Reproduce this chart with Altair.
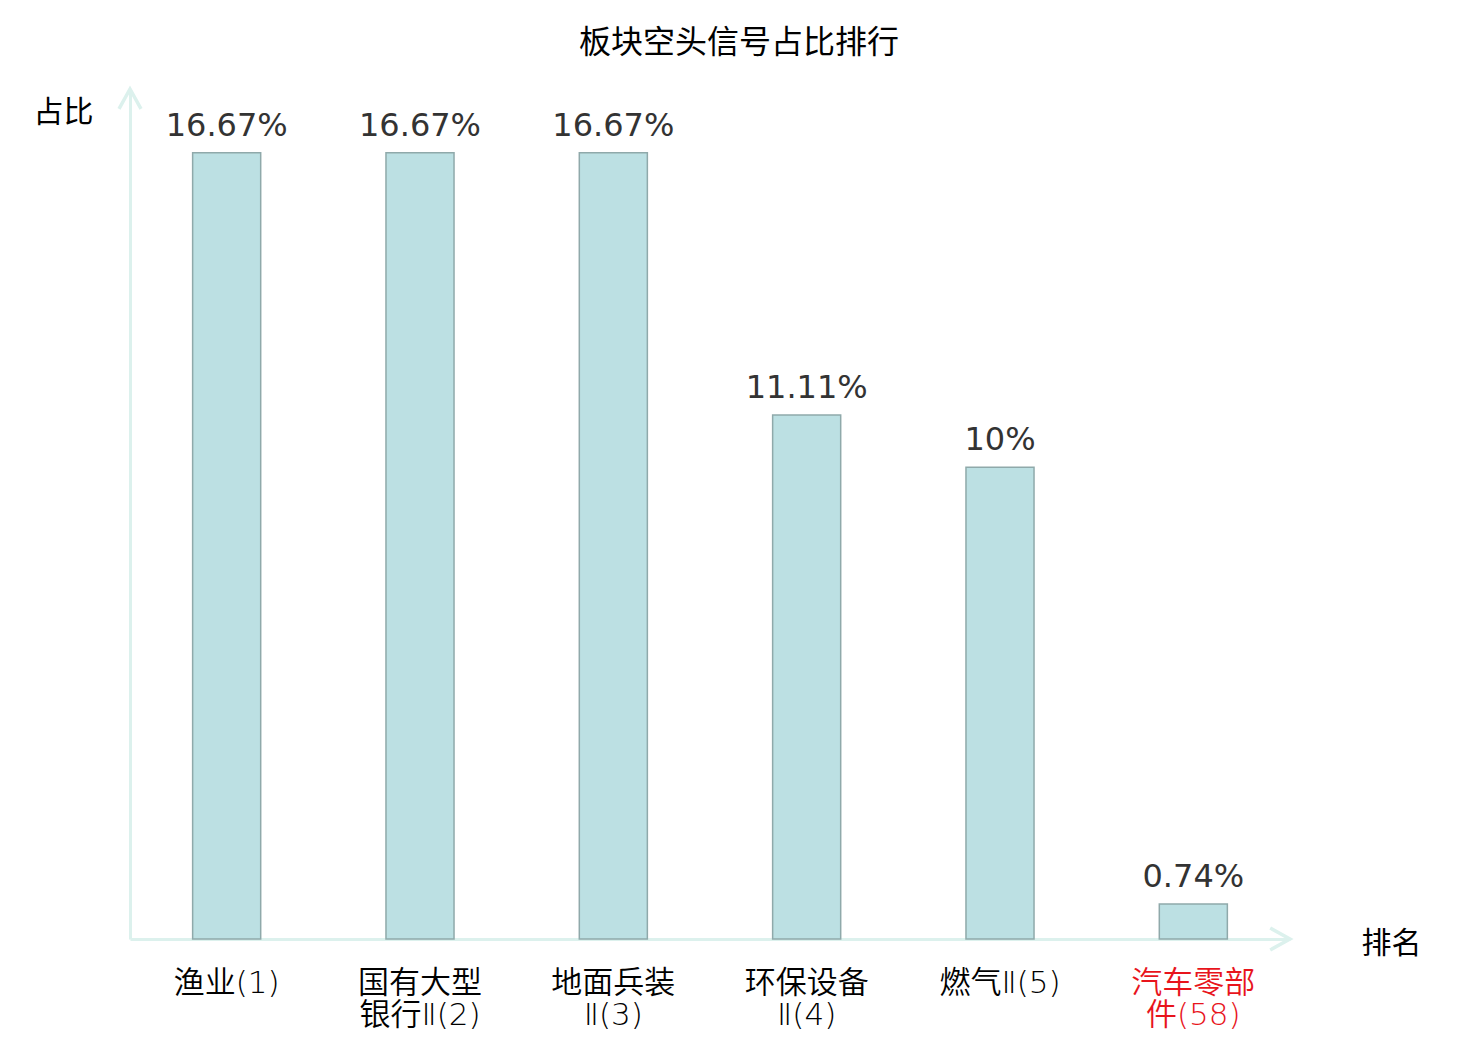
import altair as alt
import pandas as pd

categories = ["渔业(1)", "国有大型\n银行Ⅱ(2)", "地面兵装\nⅡ(3)", "环保设备\nⅡ(4)", "燃气Ⅱ(5)", "汽车零部\n件(58)"]
values = [16.67, 16.67, 16.67, 11.11, 10.0, 0.74]
value_labels = ["16.67%", "16.67%", "16.67%", "11.11%", "10%", "0.74%"]
highlight = "汽车零部\n件(58)"

df = pd.DataFrame({"cat": categories, "val": values, "lab": value_labels})

W, H = 1160, 849
AXIS_COLOR = "#dcf1ed"
CJK = "Noto Sans CJK SC"
LABEL_FONT = "DejaVu Sans, Noto Sans CJK SC"

x_enc = alt.X(
    "cat:N",
    sort=categories,
    scale=alt.Scale(paddingInner=0.648, paddingOuter=0.324),
    axis=alt.Axis(
        title="排名",
        titleFont=CJK,
        titleFontSize=30,
        titleFontWeight="normal",
        titleColor="#000000",
        titleAngle=0,
        titleX=W + 101,
        titleY=4,
        titleAlign="center",
        titleBaseline="middle",
        labelAngle=0,
        labelFont=LABEL_FONT,
        labelFontSize=31,
        labelFontWeight={"expr": "350"},
        labelLineHeight=32,
        labelPadding=29,
        labelBaseline="top",
        labelExpr="split(datum.value, '\\n')",
        labelColor={"condition": {"test": f"datum.value == {repr(highlight)}", "value": "#e8141c"}, "value": "#000000"},
        ticks=False,
        domainColor=AXIS_COLOR,
        domainWidth=3,
    ),
)

y_enc = alt.Y(
    "val:Q",
    scale=alt.Scale(domain=[0, 18], nice=False),
    axis=alt.Axis(
        title="占比",
        titleFont=CJK,
        titleFontSize=30,
        titleFontWeight="normal",
        titleColor="#000000",
        titleAngle=0,
        titleX=-67,
        titleY=22,
        titleAlign="center",
        titleBaseline="middle",
        labels=False,
        ticks=False,
        grid=False,
        domainColor=AXIS_COLOR,
        domainWidth=3,
    ),
)

bars = alt.Chart(df).mark_bar(
    fill="#bce0e3", stroke="#8fa9aa", strokeWidth=1.5
).encode(x=x_enc, y=y_enc)

texts = alt.Chart(df).mark_text(
    baseline="bottom", dy=-10, fontSize=32, font="DejaVu Sans", color="#333333"
).encode(x=alt.X("cat:N", sort=categories), y="val:Q", text="lab:N")

one = alt.Data(values=[{"a": 1}])
x_arrow = alt.Chart(one).mark_point(
    shape="M -1.8 -1 L 0 0 L -1.8 1", size=484, filled=False,
    stroke=AXIS_COLOR, strokeWidth=3.5, opacity=1
).encode(x=alt.value(W), y=alt.value(H))
y_arrow = alt.Chart(one).mark_point(
    shape="M -1 1.8 L 0 0 L 1 1.8", size=484, filled=False,
    stroke=AXIS_COLOR, strokeWidth=3.5, opacity=1
).encode(x=alt.value(0), y=alt.value(-1))

chart = alt.layer(bars, texts, x_arrow, y_arrow).properties(
    width=W,
    height=H,
    background="white",
    title=alt.TitleParams(
        "板块空头信号占比排行", font=CJK, fontSize=32, fontWeight="normal",
        color="#000000", anchor="middle", offset=22, dx=29
    ),
    autosize=alt.AutoSizeParams(type="none"),
    padding={"left": 122, "top": 82, "right": 180, "bottom": 95},
).configure_view(stroke=None)

chart.save("out.html", embed_options={"renderer": "svg", "actions": False})
